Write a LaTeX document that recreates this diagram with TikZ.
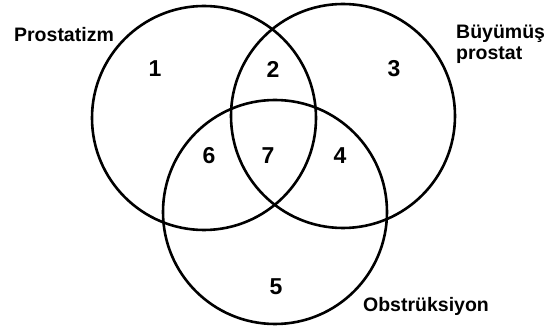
\documentclass[tikz,border=0pt]{standalone}
\usepackage{fontspec}
\setmainfont{Liberation Sans}
\usepackage{tikz}
\tikzset{
  ring/.style={line width=2.6pt},
  setlabel/.style={font=\bfseries\fontsize{19.5}{21}\selectfont,inner sep=0pt},
  region/.style={font=\bfseries\fontsize{23}{25}\selectfont,inner sep=0pt}
}

\begin{document}
\begin{tikzpicture}[x=1pt,y=-1pt]
  \useasboundingbox (0,0) rectangle (550,331);
  % circle centres
  \coordinate (cP) at (204,118);
  \coordinate (cB) at (343,116);
  \coordinate (cO) at (275,212);
  % the three sets
  \draw[ring] (cP) circle[radius=112];
  \draw[ring] (cB) circle[radius=112];
  \draw[ring] (cO) circle[radius=112];
  % set names
  \node[setlabel] (prostatizm) at (64,35) {Prostatizm};
  \node[setlabel,align=left,anchor=north west] (buyumus) at (456,25) {Büyümüş\\prostat};
  \node[setlabel] (obstruksiyon) at (426,306) {Obstrüksiyon};
  % regions
  \node[region] (r1) at (155,69) {1};
  \node[region] (r2) at (273,69) {2};
  \node[region] (r3) at (394,69) {3};
  \node[region] (r4) at (340,156) {4};
  \node[region] (r5) at (276,287) {5};
  \node[region] (r6) at (209,156) {6};
  \node[region] (r7) at (268,156) {7};
\end{tikzpicture}
\end{document}
